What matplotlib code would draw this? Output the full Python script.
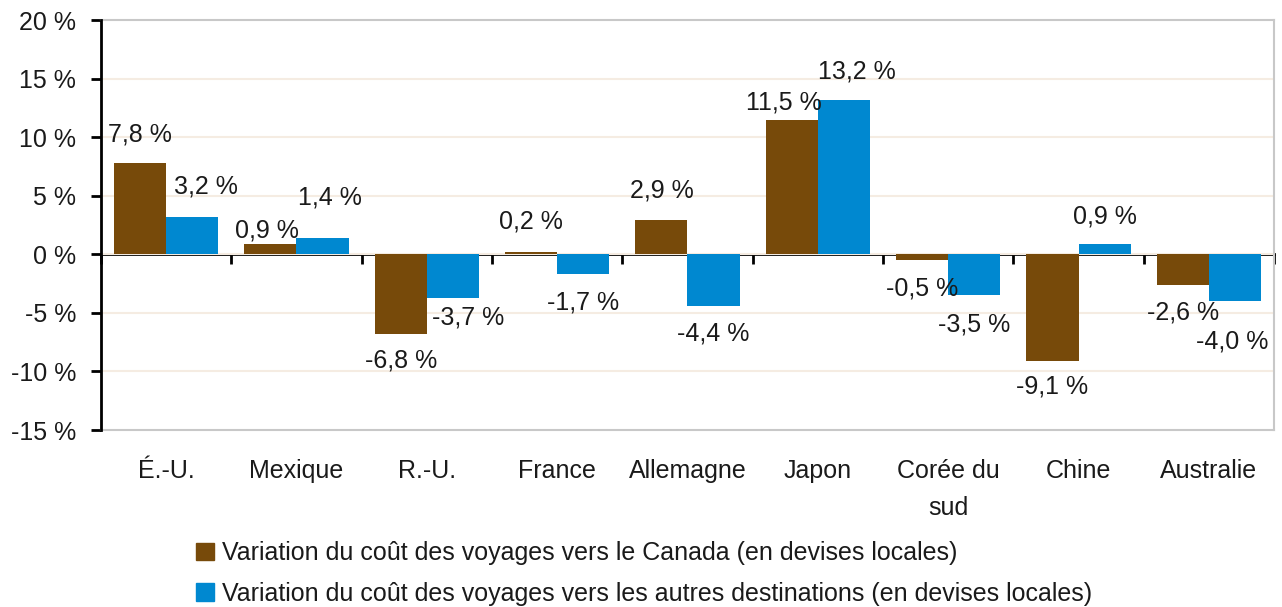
import matplotlib
matplotlib.use("Agg")
import matplotlib.pyplot as plt
import numpy as np
from matplotlib.patches import Patch

categories = ["É.-U.", "Mexique", "R.-U.", "France", "Allemagne", "Japon", "Corée du\nsud", "Chine", "Australie"]
canada = [7.8, 0.9, -6.8, 0.2, 2.9, 11.5, -0.5, -9.1, -2.6]
autres = [3.2, 1.4, -3.7, -1.7, -4.4, 13.2, -3.5, 0.9, -4.0]
series_names = ["Variation du coût des voyages vers le Canada (en devises locales)",
                "Variation du coût des voyages vers les autres destinations (en devises locales)"]
yticks = [-15, -10, -5, 0, 5, 10, 15, 20]

# label placement tweaks (pixels): (dx, distance from bar end)
canada_lab_off = [(0, 28), (-3, 13), (0, 27), (0, 30), (0, 30), (-8, 17), (0, 28), (0, 26), (0, 28)]
autres_lab_off = [(14, 30), (7, 40), (15, 20), (0, 28), (0, 28), (13, 28), (0, 29), (0, 27), (-3, 40)]

BROWN = "#774A0A"
BLUE = "#0088D0"
FS = 18

plt.rcParams['font.family'] = ['Liberation Sans', 'DejaVu Sans']
plt.rcParams['text.color'] = '#1a1a1a'

fig = plt.figure(figsize=(12.82, 6.07), dpi=100)
ax = fig.add_axes([101/1282, 1-430/607, 1173/1282, 410/607])

n = len(categories)
x = np.arange(n)
w = 0.4
b1 = ax.bar(x - w/2, canada, w, color=BROWN, zorder=3)
b2 = ax.bar(x + w/2, autres, w, color=BLUE, zorder=3)

ymin, ymax = yticks[0], yticks[-1]
ax.set_ylim(ymin, ymax)
ax.set_xlim(-0.5, n - 0.5)

# gridlines
for v in yticks[1:-1]:
    ax.axhline(v, color="#F5ECE2", lw=1.5, zorder=1)

ax.set_yticks(yticks)
ax.set_yticklabels([f"{v} %" for v in yticks], fontsize=FS)
ax.tick_params(axis='y', direction='out', length=7, width=2, pad=11, colors='black', labelcolor='#1a1a1a')

ax.set_xticks(x)
ax.set_xticklabels(categories, fontsize=FS, linespacing=1.65)
ax.tick_params(axis='x', length=0, pad=21, labelcolor='#1a1a1a')

for s in ['top', 'right', 'bottom']:
    ax.spines[s].set_color('#C8C8C8')
    ax.spines[s].set_linewidth(1.5)
ax.spines['left'].set_color('black')
ax.spines['left'].set_linewidth(2)
ax.spines['left'].set_zorder(5)

# zero axis with boundary ticks
loc0 = (0 - ymin) / (ymax - ymin)
sec = ax.secondary_xaxis(loc0)
sec.set_xticks(np.arange(n + 1) - 0.5)
sec.set_xticklabels([])
sec.tick_params(axis='x', direction='out', length=7, width=2, colors='black', bottom=True, top=False)
sec.spines['bottom'].set_linewidth(2)
sec.spines['bottom'].set_color('black')
sec.spines['bottom'].set_zorder(6)
sec.xaxis.set_ticks_position('bottom')

def lab(v):
    return f"{v:.1f} %".replace('.', ',')

for bars, vals, offs in ((b1, canada, canada_lab_off), (b2, autres, autres_lab_off)):
    for rect, v, (dx, dd) in zip(bars, vals, offs):
        cx = rect.get_x() + rect.get_width()/2
        off = dd if v >= 0 else -dd
        ax.annotate(lab(v), (cx, v), xytext=(dx, off), textcoords='offset pixels',
                    ha='center', va='center', fontsize=FS, zorder=7)

handles = [Patch(color=BROWN), Patch(color=BLUE)]
fig.legend(handles, series_names, loc='upper left', bbox_to_anchor=(196/1282, 1-541/607),
           frameon=False, fontsize=FS, handlelength=0.7, handleheight=0.7,
           handletextpad=0.35, labelspacing=0.67, borderaxespad=0, borderpad=0)

fig.savefig("out.png", dpi=100)
